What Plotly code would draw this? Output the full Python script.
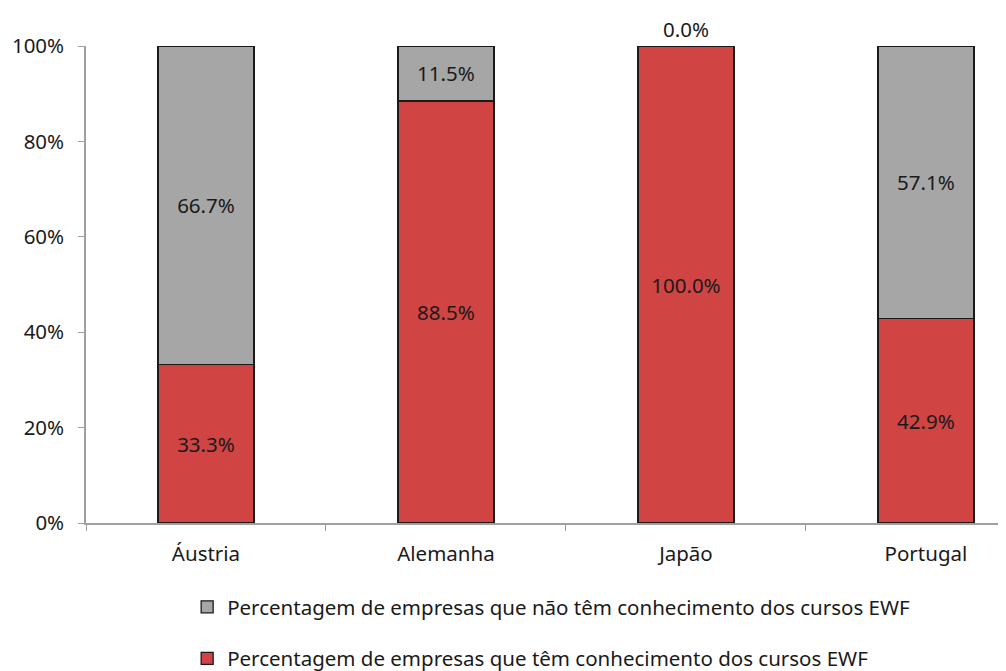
import plotly.graph_objects as go

paises = ['Áustria', 'Alemanha', 'Japão', 'Portugal']
com_conhecimento = [33.3, 88.5, 100.0, 42.9]
sem_conhecimento = [66.7, 11.5, 0.0, 57.1]
nome_com = 'Percentagem de empresas que têm conhecimento dos cursos EWF'
nome_sem = 'Percentagem de empresas que não têm conhecimento dos cursos EWF'

fonte = dict(family='Noto Sans, DejaVu Sans, sans-serif', size=20.5, color='#1a1a1a')

fig = go.Figure()

fig.add_trace(go.Bar(
    x=paises,
    y=com_conhecimento,
    name=nome_com,
    legendgroup='com',
    legendrank=2,
    marker=dict(color='#D04444', line=dict(color='#1a1a1a', width=1.3)),
    width=0.4,
    text=[f'{v:.1f}%' for v in com_conhecimento],
    textposition='inside',
    insidetextanchor='middle',
    textfont=fonte,
    cliponaxis=False,
))

fig.add_trace(go.Bar(
    x=paises,
    y=sem_conhecimento,
    name=nome_sem,
    legendgroup='sem',
    legendrank=1,
    marker=dict(color='#A6A6A6', line=dict(color='#1a1a1a', width=1.3)),
    width=0.4,
    text=[f'{v:.1f}%' for v in sem_conhecimento],
    textposition=['inside' if v > 0 else 'outside' for v in sem_conhecimento],
    insidetextanchor='middle',
    textfont=fonte,
    constraintext='none',
    cliponaxis=False,
))

# a página tem 8px de margem no body, por isso as margens descontam isso
fig.update_layout(
    barmode='stack',
    width=1006,
    height=671,
    margin=dict(l=78, r=0, t=38, b=156),
    plot_bgcolor='white',
    paper_bgcolor='white',
    font=fonte,
    xaxis=dict(
        range=[-0.5, 3.367],
        showline=True,
        linecolor='#A0A0A0',
        linewidth=1.5,
        ticks='outside',
        tickson='boundaries',
        ticklen=6,
        tickcolor='#A0A0A0',
        ticklabelstandoff=12,
        showgrid=False,
        automargin=False,
        tickfont=fonte,
    ),
    yaxis=dict(
        range=[0, 100],
        dtick=20,
        ticksuffix='%',
        showline=True,
        linecolor='#A0A0A0',
        linewidth=1.5,
        ticks='outside',
        ticklen=6,
        tickcolor='#A0A0A0',
        ticklabelstandoff=10,
        showgrid=False,
        zeroline=False,
        automargin=False,
        tickfont=fonte,
    ),
    legend=dict(
        orientation='v',
        traceorder='grouped',
        tracegroupgap=22,
        itemwidth=30,
        x=0.109,
        xanchor='left',
        y=-0.135,
        yanchor='top',
        font=fonte,
        bgcolor='rgba(0,0,0,0)',
    ),
)

fig.write_html('out.html')
